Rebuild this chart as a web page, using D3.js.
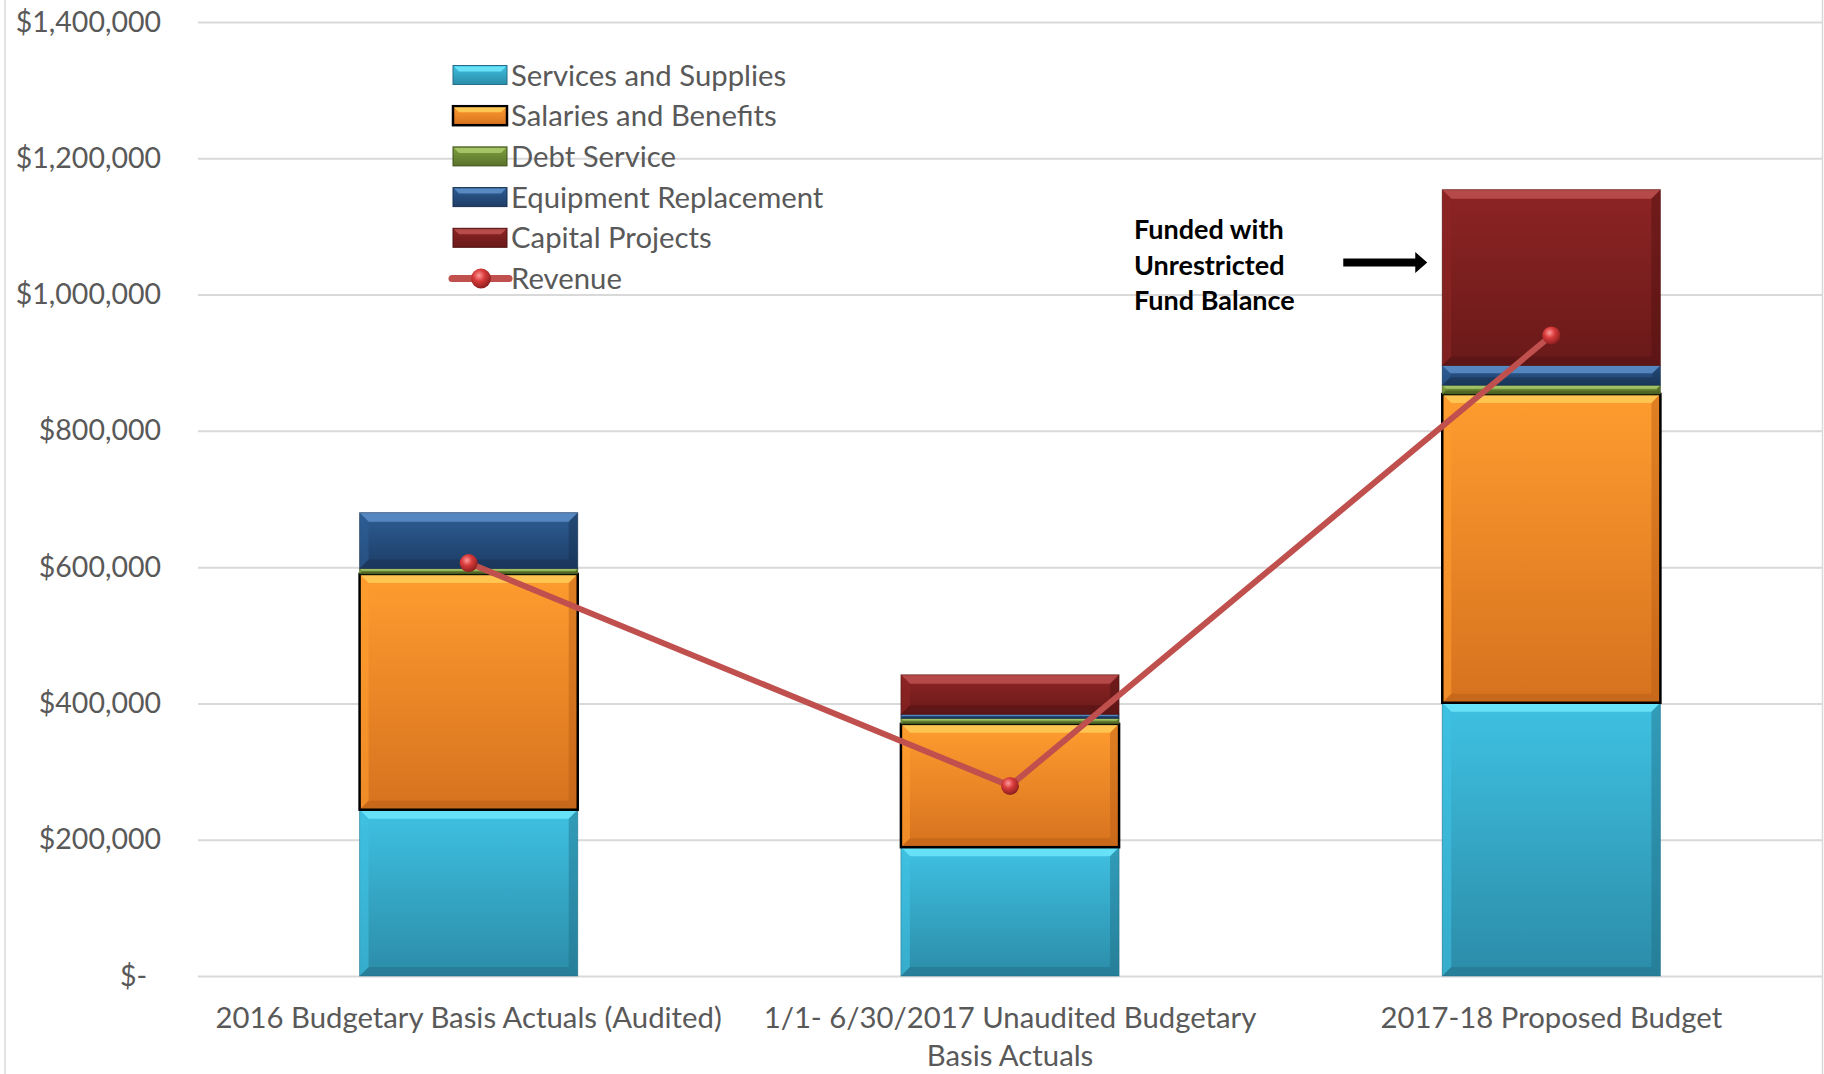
<!DOCTYPE html>
<html><head><meta charset="utf-8">
<script src="https://cdn.jsdelivr.net/npm/d3@7"></script>
<style>html,body{margin:0;padding:0;background:#fff;}svg{display:block;}</style>
</head><body>
<script>
const categories = ["2016 Budgetary Basis Actuals (Audited)", "1/1- 6/30/2017 Unaudited Budgetary\nBasis Actuals", "2017-18 Proposed Budget"];
const seriesNames = ["Services and Supplies", "Salaries and Benefits", "Debt Service", "Equipment Replacement", "Capital Projects"];
const services = [244000, 189000, 401000];
const salaries = [346000, 181000, 453000];
const debt = [8000, 8000, 13000];
const equipment = [82000, 6000, 29000];
const capital = [0, 58000, 258000];
const revenue = [606000, 279000, 940000];
const yTicks = [0, 200000, 400000, 600000, 800000, 1000000, 1200000, 1400000];
const annotation = ["Funded with", "Unrestricted", "Fund Balance"];

const W = 1824, H = 1074;
const FONT = "Lato";
const svg = d3.select("body").append("svg").attr("width", W).attr("height", H);
const defs = svg.append("defs");

const styles = [
  {top:"#3fc1e2", bot:"#2b8ca8", hi:"#74ecff", lo:"#226f87", stroke:null},
  {top:"#ff9c2f", bot:"#d6721e", hi:"#ffd35c", lo:"#b85e16", stroke:"#000"},
  {top:"#7fa040", bot:"#58722a", hi:"#b0d070", lo:"#3f521c", stroke:null},
  {top:"#2d5e94", bot:"#1e3d66", hi:"#6496d0", lo:"#17304f", stroke:null},
  {top:"#8d2424", bot:"#6a1919", hi:"#c45656", lo:"#4f1212", stroke:null}
];
styles.forEach((s,i)=>{
  const g = defs.append("linearGradient").attr("id","g"+i).attr("x1",0).attr("y1",0).attr("x2",0).attr("y2",1);
  g.append("stop").attr("offset","0%").attr("stop-color",s.top);
  g.append("stop").attr("offset","100%").attr("stop-color",s.bot);
});
const rg = defs.append("radialGradient").attr("id","marker").attr("cx","40%").attr("cy","35%").attr("r","65%");
rg.append("stop").attr("offset","0%").attr("stop-color","#ff9a9a");
rg.append("stop").attr("offset","45%").attr("stop-color","#d83a3a");
rg.append("stop").attr("offset","100%").attr("stop-color","#8e1f1f");

const x = d3.scaleBand().domain(categories).range([198, 1822]).paddingInner(0.597).paddingOuter(0.2985);
const y = d3.scaleLinear().domain([0, 1400000]).range([976, 22]);

// borders
svg.append("line").attr("x1",5).attr("x2",5).attr("y1",0).attr("y2",H).attr("stroke","#d9d9d9").attr("stroke-width",1.5);
svg.append("line").attr("x1",1822.5).attr("x2",1822.5).attr("y1",0).attr("y2",H).attr("stroke","#d9d9d9").attr("stroke-width",1.5);

// y axis with gridlines
const yAxis = d3.axisLeft(y).tickValues(yTicks)
  .tickFormat(v => v === 0 ? "$-" : d3.format("$,")(v))
  .tickSizeInner(-(1822-198)).tickSizeOuter(0).tickPadding(37);
const ya = svg.append("g").attr("transform","translate(198,0)").call(yAxis);
ya.select(".domain").remove();
ya.selectAll(".tick line").attr("stroke","#d9d9d9").attr("stroke-width",2);
ya.selectAll(".tick text").attr("fill","#595959").attr("font-family",FONT).attr("font-size",28.5)
  .attr("dx", d => d === 0 ? -14 : 0);

// stacked bars
const rows = categories.map((c,i)=>({cat:c, s0:services[i], s1:salaries[i], s2:debt[i], s3:equipment[i], s4:capital[i]}));
const stack = d3.stack().keys(["s0","s1","s2","s3","s4"]);
const stacked = stack(rows);
const bw = x.bandwidth();
stacked.forEach((layer, li)=>{
  const st = styles[li];
  const g = svg.append("g");
  layer.forEach(d=>{
    const h = y(d[0]) - y(d[1]);
    if (h <= 0) return;
    const x0 = x(d.data.cat), x1 = x0 + bw, yt = y(d[1]), yb = y(d[0]);
    g.append("rect").attr("x",x0).attr("y",yt).attr("width",bw).attr("height",h).attr("fill",`url(#g${li})`);
    const b = Math.min(9, h/2.5);
    g.append("polygon").attr("points",`${x0},${yt} ${x1},${yt} ${x1-b},${yt+b} ${x0+b},${yt+b}`).attr("fill",st.hi).attr("opacity",0.75);
    g.append("polygon").attr("points",`${x0},${yb} ${x1},${yb} ${x1-b},${yb-b} ${x0+b},${yb-b}`).attr("fill",st.lo).attr("opacity",0.5);
    g.append("polygon").attr("points",`${x0},${yt} ${x0+b},${yt+b} ${x0+b},${yb-b} ${x0},${yb}`).attr("fill",st.top).attr("opacity",0.6);
    g.append("polygon").attr("points",`${x1},${yt} ${x1-b},${yt+b} ${x1-b},${yb-b} ${x1},${yb}`).attr("fill",st.lo).attr("opacity",0.45);
    if (st.stroke) g.append("rect").attr("x",x0).attr("y",yt).attr("width",bw).attr("height",h).attr("fill","none").attr("stroke",st.stroke).attr("stroke-width",2.5);
    else g.append("rect").attr("x",x0).attr("y",yt).attr("width",bw).attr("height",h).attr("fill","none").attr("stroke",st.lo).attr("stroke-opacity",0.5).attr("stroke-width",1);
  });
});

// revenue line
const cx = c => x(c) + bw/2;
const line = d3.line().x((d,i)=>cx(categories[i])).y(d=>y(d));
svg.append("path").datum(revenue).attr("d",line).attr("fill","none").attr("stroke","#c0504d").attr("stroke-width",6).attr("stroke-linejoin","round");
svg.selectAll("circle.rev").data(revenue).join("circle").attr("class","rev")
  .attr("cx",(d,i)=>cx(categories[i])).attr("cy",d=>y(d)).attr("r",9).attr("fill","url(#marker)");

// x labels
const xl = svg.append("g");
categories.forEach(c=>{
  const t = xl.append("text").attr("x",cx(c)).attr("y",1028).attr("text-anchor","middle")
    .attr("fill","#595959").attr("font-family",FONT).attr("font-size",29.3);
  c.split("\n").forEach((ln,k)=>t.append("tspan").attr("x",cx(c)).attr("dy",k===0?0:38).text(ln));
});

// legend
const lg = svg.append("g").attr("transform","translate(453,75)");
seriesNames.concat(["Revenue"]).forEach((n,i)=>{
  const r = lg.append("g").attr("transform",`translate(0,${i*40.7})`);
  if (i < 5) {
    const st = styles[i];
    r.append("rect").attr("x",0).attr("y",-9.5).attr("width",54).attr("height",19).attr("fill",`url(#g${i})`)
      .attr("stroke", st.stroke || st.lo).attr("stroke-width", st.stroke ? 2.5 : 1);
    r.append("polygon").attr("points","1,-8.5 53,-8.5 48,-3.5 6,-3.5").attr("fill",st.hi).attr("opacity",0.8);
  } else {
    r.append("line").attr("x1",-1).attr("x2",56).attr("y1",0).attr("y2",0).attr("stroke","#c0504d").attr("stroke-width",7).attr("stroke-linecap","round");
    r.append("circle").attr("cx",28).attr("cy",0).attr("r",10).attr("fill","url(#marker)");
  }
  r.append("text").attr("x",58).attr("y",0).attr("dy","0.36em").attr("fill","#595959")
    .attr("font-family",FONT).attr("font-size",29.3).text(n);
});

// annotation
const c3 = categories[2];
const ax = x(c3) - 99, ay = y(1047000);
const an = svg.append("text").attr("font-family",FONT).attr("font-weight","bold").attr("font-size",27).attr("fill","#000");
annotation.forEach((t,k)=>an.append("tspan").attr("x",1134).attr("y",239 + k*35.5).text(t));
svg.append("path").attr("d",`M${ax},${ay-4} H${ax+72} V${ay-10.5} L${ax+84},${ay} L${ax+72},${ay+10.5} V${ay+4} H${ax} Z`).attr("fill","#000");
</script>
</body></html>
